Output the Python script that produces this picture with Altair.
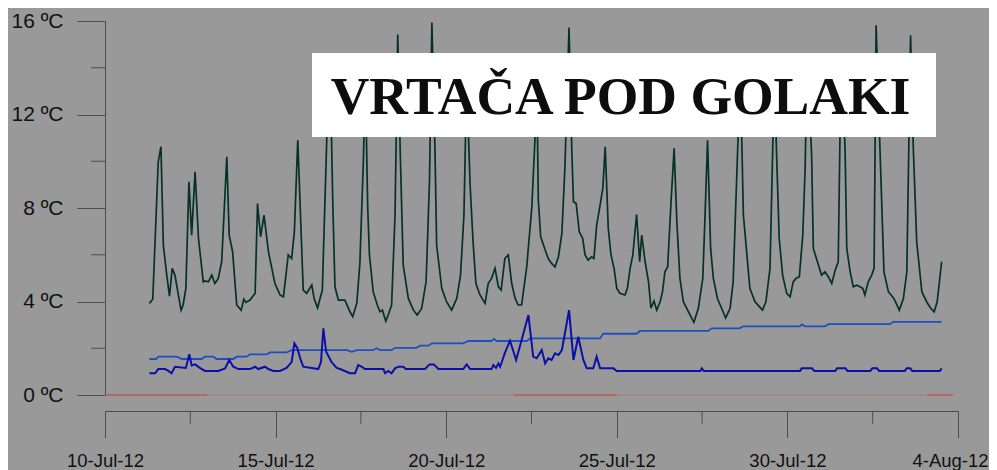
import altair as alt
import pandas as pd

# Days after 10-Jul-2012 00:00 and temperatures (°C)
g_day = [1.30, 1.40, 1.56, 1.64, 1.71, 1.81, 1.89, 1.97, 2.05, 2.15, 2.23, 2.29, 2.37, 2.46, 2.54, 2.64,
         2.74, 2.88, 2.93, 3.03, 3.13, 3.22, 3.32, 3.42, 3.57, 3.64, 3.74, 3.86, 3.99, 4.07, 4.13, 4.25,
         4.40, 4.47, 4.56, 4.66, 4.79, 4.98, 5.13, 5.23, 5.37, 5.47, 5.55, 5.65, 5.81, 5.91, 6.06, 6.13,
         6.23, 6.37, 6.50, 6.60, 6.68, 6.74, 6.84, 7.03, 7.18, 7.26, 7.38, 7.47, 7.57, 7.63, 7.70, 7.75,
         7.86, 7.98, 8.06, 8.13, 8.23, 8.30, 8.40, 8.50, 8.58, 8.65, 8.74, 8.89, 9.04, 9.15, 9.28, 9.41,
         9.51, 9.58, 9.67, 9.72, 9.87, 10.01, 10.16, 10.31, 10.42, 10.52, 10.60, 10.70, 10.79, 10.87,
         10.99, 11.14, 11.23, 11.33, 11.43, 11.53, 11.61, 11.72, 11.82, 11.92, 12.02, 12.11, 12.21,
         12.36, 12.51, 12.60, 12.65, 12.70, 12.77, 12.90, 12.99, 13.09, 13.19, 13.29, 13.39, 13.48,
         13.60, 13.68, 13.73, 13.81, 13.90, 14.00, 14.07, 14.16, 14.26, 14.33, 14.41, 14.51, 14.59,
         14.66, 14.75, 14.83, 14.92, 15.00, 15.09, 15.24, 15.31, 15.39, 15.47, 15.58, 15.67, 15.73,
         15.83, 15.93, 16.00, 16.09, 16.17, 16.27, 16.34, 16.41, 16.49, 16.59, 16.68, 16.76, 16.85,
         16.95, 17.05, 17.15, 17.26, 17.39, 17.52, 17.58, 17.66, 17.75, 17.83, 17.95, 18.07, 18.19,
         18.32, 18.41, 18.51, 18.62, 18.71, 18.90, 19.05, 19.18, 19.27, 19.37, 19.49, 19.57, 19.62,
         19.69, 19.76, 19.86, 19.98, 20.08, 20.17, 20.25, 20.35, 20.45, 20.52, 20.58, 20.71, 20.76,
         20.88, 21.00, 21.10, 21.20, 21.30, 21.40, 21.49, 21.54, 21.60, 21.69, 21.74, 21.84, 21.93,
         22.03, 22.13, 22.21, 22.27, 22.37, 22.47, 22.54, 22.60, 22.70, 22.83, 22.96, 23.12, 23.28,
         23.40, 23.50, 23.61, 23.69, 23.79, 23.94, 24.08, 24.20, 24.30, 24.39, 24.52]
g_val = [3.92, 4.10, 9.97, 10.62, 6.41, 5.13, 4.23, 5.42, 5.13, 4.28, 3.63, 3.85, 4.56, 9.12, 6.84, 9.55,
         6.70, 4.84, 4.88, 4.84, 5.13, 4.77, 4.99, 5.70, 10.19, 6.84, 6.13, 3.85, 3.63, 4.10, 3.96, 4.06,
         4.35, 8.19, 6.77, 7.70, 6.13, 4.77, 4.28, 4.20, 5.99, 5.84, 6.98, 10.90, 4.49, 4.35, 4.70, 4.13,
         3.73, 4.49, 10.97, 13.8, 8.0, 4.63, 4.06, 4.06, 3.56, 3.35, 3.93, 5.63, 9.90, 13.5, 8.0, 6.0,
         4.42, 3.85, 3.56, 3.63, 3.16, 3.42, 3.85, 7.70, 15.42, 10.55, 5.56, 4.13, 3.63, 3.42, 3.70, 4.84,
         9.12, 15.93, 10.55, 6.41, 4.56, 3.99, 3.63, 4.13, 5.13, 7.70, 13.5, 9.0, 6.49, 4.77,
         4.28, 3.92, 4.77, 4.99, 5.42, 4.63, 4.49, 5.84, 5.99, 4.77, 4.13, 3.85, 3.85,
         5.48, 8.05, 10.90, 14.0, 8.34, 6.77, 6.20, 5.84, 5.63, 5.48, 5.91, 6.91, 9.76,
         15.72, 10.55, 8.27, 8.19, 6.98, 6.70, 5.99, 5.77, 5.91, 5.84, 7.27, 8.12, 8.84,
         10.62, 7.13, 5.99, 5.42, 4.56, 4.35, 4.28, 4.56, 5.42, 5.99, 7.72, 5.70, 6.84,
         5.70, 4.84, 3.71, 4.02, 3.63, 3.99, 4.42, 5.27, 5.48, 8.27, 10.55, 7.41, 4.99,
         3.99, 3.71, 3.42, 3.11, 3.71, 4.99, 7.41, 10.90, 6.27, 4.99, 4.13, 3.71, 3.30,
         3.71, 4.84, 9.12, 13.8, 7.70, 4.56, 3.99, 3.78, 3.63, 3.99, 5.42, 10.55, 13.5,
         9.97, 6.70, 5.13, 4.35, 4.20, 4.84, 4.99, 5.06, 6.84, 9.69, 14.5, 10.26, 6.27,
         5.70, 5.13, 5.27, 5.06, 4.77, 5.34, 5.70, 10.97, 13.5, 10.55, 6.27, 5.27, 4.63,
         4.70, 4.63, 4.56, 4.28, 4.84, 5.13, 5.42, 15.82, 11.1, 5.27, 4.42, 4.13, 3.63,
         4.13, 5.27, 15.39, 10.55, 6.55, 4.42, 3.99, 3.71, 3.56, 3.99, 5.70]

u_day = [1.30, 1.50, 1.56, 2.10, 2.25, 2.83, 2.93, 3.18, 3.27, 3.76, 3.86, 4.15, 4.25, 4.74, 4.84, 5.32,
         5.47, 7.10, 7.23, 7.38, 7.86, 7.96, 8.06, 8.40, 8.50, 9.13, 9.23, 9.48, 9.58, 10.50, 10.65,
         11.33, 11.40, 11.48, 12.36, 12.46, 14.51, 14.60, 15.58, 15.68, 17.68, 17.78, 18.60, 18.70,
         20.37, 20.42, 20.52, 21.10, 21.20, 23.01, 23.10, 24.52]
u_val = [1.54, 1.54, 1.64, 1.64, 1.54, 1.54, 1.64, 1.64, 1.54, 1.54, 1.64, 1.64, 1.74, 1.74, 1.82, 1.82,
         1.92, 1.92, 1.85, 1.92, 1.92, 2.00, 1.92, 1.92, 2.02, 2.02, 2.11, 2.11, 2.21, 2.21, 2.31,
         2.31, 2.40, 2.31, 2.31, 2.42, 2.42, 2.62, 2.62, 2.74, 2.74, 2.85, 2.85, 2.94,
         2.94, 3.02, 2.94, 2.94, 3.03, 3.03, 3.13, 3.13]

l_day = [1.30, 1.47, 1.56, 1.76, 1.86, 1.95, 2.05, 2.37, 2.47, 2.54, 2.64, 2.78, 2.93, 3.32, 3.52, 3.64,
         3.76, 3.91, 4.25, 4.40, 4.49, 4.69, 4.79, 4.93, 5.13, 5.32, 5.47, 5.55, 5.64, 5.72, 5.81, 6.25,
         6.33, 6.40, 6.48, 6.64, 6.79, 6.89, 7.18, 7.33, 7.42, 7.52, 7.62, 8.16, 8.21, 8.30, 8.40, 8.50,
         8.60, 8.74, 8.82, 9.38, 9.51, 9.64, 9.77, 10.50, 10.60, 10.70, 11.33, 11.38, 11.46, 11.53,
         11.58, 11.63, 11.72, 11.87, 12.05, 12.21, 12.41, 12.55, 12.65, 12.80, 12.90, 12.99, 13.09,
         13.19, 13.29, 13.39, 13.48, 13.60, 13.73, 13.87, 14.02, 14.12, 14.31, 14.41, 14.51, 14.90,
         15.00, 17.45, 17.49, 17.55, 20.37, 20.42, 20.72, 20.79, 21.40, 21.46, 21.70, 21.76, 22.43,
         22.49, 22.63, 22.69, 23.44, 23.50, 23.60, 23.66, 24.47, 24.52]
l_val = [0.93, 0.93, 1.11, 1.11, 1.03, 0.93, 1.21, 1.16, 1.74, 1.26, 1.31, 1.16, 1.03, 1.03, 1.14, 1.50,
         1.21, 1.11, 1.11, 1.21, 1.11, 1.21, 1.11, 1.03, 1.03, 1.16, 1.41, 2.21, 2.00, 1.57, 1.21, 1.11,
         1.41, 2.85, 1.85, 1.41, 1.16, 1.11, 0.93, 0.93, 1.28, 1.21, 1.11, 1.11, 0.93, 1.03, 0.93, 1.14,
         1.21, 1.21, 1.11, 1.11, 1.31, 1.31, 1.11, 1.11, 1.31, 1.11, 1.11, 1.28, 1.16, 1.35,
         1.21, 1.41, 1.80, 2.32, 1.50, 2.35, 3.42, 1.64, 1.57, 1.92, 1.35, 1.57, 1.50,
         1.78, 1.71, 1.92, 2.64, 3.63, 1.50, 2.49, 1.50, 1.14, 1.14, 1.64, 1.14, 1.14,
         1.03, 1.03, 1.14, 1.03, 1.03, 1.14, 1.14, 1.03, 1.03, 1.14, 1.14, 1.03, 1.03,
         1.14, 1.14, 1.03, 1.03, 1.14, 1.14, 1.03, 1.03, 1.14]

# 0 °C trace (red), drawn as segments of differing intensity
r_start = [0.0, 3.0, 12.0, 15.0, 24.1]
r_end = [3.0, 12.0, 15.0, 24.1, 24.85]
r_color = ["#c25656", "#a88282", "#c25656", "#a88282", "#c25656"]

y_major = [0, 4, 8, 12, 16]
y_minor = [2, 6, 10, 14]
x_major = [0, 5, 10, 15, 20, 25]
x_minor = [2.5, 7.5, 12.5, 17.5, 22.5]

TITLE = "VRTAČA POD GOLAKI"

W, H = 853, 374
AX = "#4d4d4d"

x_scale = alt.Scale(domain=[0, 25], nice=False, zero=False)
y_scale = alt.Scale(domain=[0, 16], nice=False, zero=False)

x_axis = alt.Axis(values=x_major, offset=16, tickSize=26.5, tickColor=AX, domainColor=AX,
                  labelExpr="timeFormat(datetime(2012, 6, 10 + datum.value), '%-d-%b-%y')",
                  labelFont="Liberation Sans", labelFontSize=18.5, labelColor="#111111",
                  labelBaseline="alphabetic", labelPadding=29, labelFlush=False,
                  labelOffset={"condition": {"test": "datum.value == 25", "value": -8}, "value": 0},
                  labelOverlap=False, grid=False, title=None)
y_axis = alt.Axis(values=y_major, tickSize=28, tickColor=AX, domainColor=AX,
                  labelExpr="datum.value + ' ºC'", labelFont="Liberation Sans",
                  labelFontSize=21, labelColor="#111111", labelPadding=14,
                  grid=False, title=None)

red_df = pd.DataFrame({"s": r_start, "e": r_end, "c": r_color, "v": [0] * len(r_start)})
base_red = alt.Chart(red_df).mark_rule(strokeWidth=1.6).encode(
    x=alt.X("s:Q", scale=x_scale, axis=x_axis),
    x2="e:Q",
    y=alt.Y("v:Q", scale=y_scale, axis=y_axis),
    color=alt.Color("c:N", scale=None),
)

green = alt.Chart(pd.DataFrame({"d": g_day, "v": g_val})).mark_line(
    color="#06302b", strokeWidth=1.7).encode(x="d:Q", y="v:Q")
upper = alt.Chart(pd.DataFrame({"d": u_day, "v": u_val})).mark_line(
    color="#1e4ec0", strokeWidth=1.8).encode(x="d:Q", y="v:Q")
lower = alt.Chart(pd.DataFrame({"d": l_day, "v": l_val})).mark_line(
    color="#0c10a6", strokeWidth=2).encode(x="d:Q", y="v:Q")

ymin_ticks = alt.Chart(pd.DataFrame({"v": y_minor})).mark_rule(color=AX, strokeWidth=1).encode(
    y="v:Q", x=alt.value(-14), x2=alt.value(0))
xmin_ticks = alt.Chart(pd.DataFrame({"d": x_minor})).mark_rule(color=AX, strokeWidth=1).encode(
    x="d:Q", y=alt.value(H + 16), y2=alt.value(H + 29))

box = alt.Chart(pd.DataFrame({"a": [0]})).mark_rect(color="white").encode(
    x=alt.value(207), x2=alt.value(831), y=alt.value(32), y2=alt.value(116))
label = alt.Chart(pd.DataFrame({"a": [0]})).mark_text(
    text=TITLE, font="Liberation Serif", fontWeight="bold", fontSize=53.5, color="#0d0d0d",
    align="center", baseline="alphabetic").encode(x=alt.value(515.5), y=alt.value(92.5))

chart = alt.layer(base_red, green, upper, lower, ymin_ticks, xmin_ticks, box, label).properties(
    width=W, height=H,
    padding={"left": 97, "top": 13, "right": 31, "bottom": 75},
    autosize=alt.AutoSizeParams(type="none"),
    background="#999999",
).configure_view(stroke=None)

chart.save("out.html", embed_options={"renderer": "svg", "actions": False})
